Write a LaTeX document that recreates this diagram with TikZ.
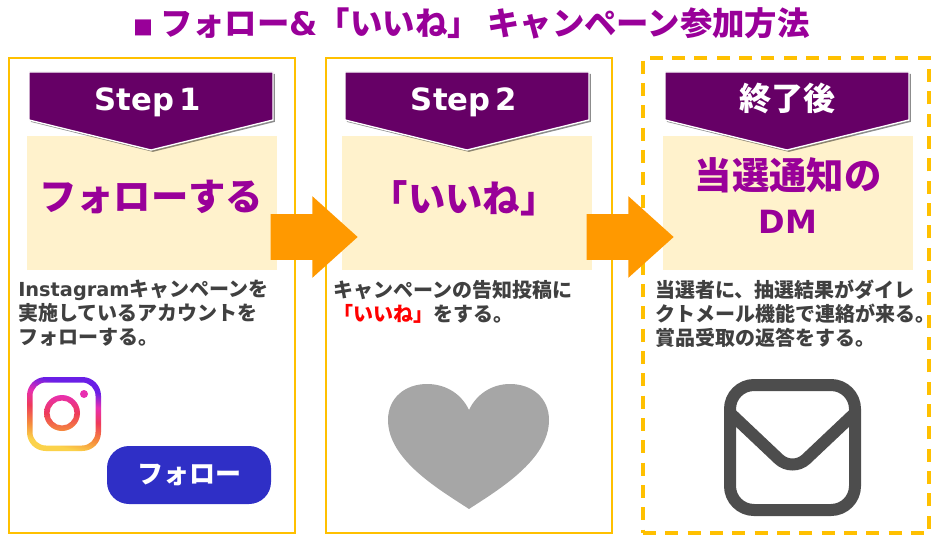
\documentclass[tikz,border=0pt]{standalone}
\usepackage{fontspec}
\setmainfont{Noto Sans CJK JP}
\newfontfamily\latinfont{DejaVu Sans}
\usetikzlibrary{positioning,shapes.arrows,shadows}
\definecolor{titlepurple}{HTML}{990099}
\definecolor{bannerpurple}{HTML}{660066}
\definecolor{creamfill}{HTML}{FFF2CC}
\definecolor{cardyellow}{HTML}{FFC000}
\definecolor{arroworange}{HTML}{FF9900}
\definecolor{bodygray}{HTML}{404040}
\definecolor{buttonblue}{HTML}{2F2FC6}
\definecolor{heartgray}{HTML}{A6A6A6}
\definecolor{mailgray}{HTML}{4D4D4D}
\definecolor{instaviolet}{HTML}{6A1FE6}
\definecolor{instapink}{HTML}{E82FB0}
\definecolor{instared}{HTML}{EE3A5A}
\definecolor{instaorange}{HTML}{F58A3C}
\definecolor{instayellow}{HTML}{FBD24A}
\pgfdeclareverticalshading{instashade}{100bp}{
  color(0bp)=(instayellow); color(28bp)=(instayellow); color(38bp)=(instaorange); color(50bp)=(instared);
  color(60bp)=(instapink); color(70bp)=(instaviolet); color(100bp)=(instaviolet)}
\pgfdeclareverticalshading{ringshade}{100bp}{
  color(0bp)=(instaorange); color(25bp)=(instaorange); color(50bp)=(instared); color(75bp)=(instapink); color(100bp)=(instapink)}
\tikzset{
  cardbox/.style={draw=cardyellow,line width=1.5pt,outer sep=0pt,minimum width=214.5pt,minimum height=356.25pt,inner sep=0pt},
  cardlast/.style={cardbox,line width=3pt,dash pattern=on 9.75pt off 7pt},
  creambox/.style={fill=creamfill,minimum width=187.5pt,minimum height=100.5pt,inner sep=0pt},
  bannershape/.style={fill=bannerpurple,draw=white,line width=1pt,drop shadow={shadow xshift=1.4pt,shadow yshift=-1.4pt,opacity=.45,fill=black}},
  bannertext/.style={text=white,font=\latinfont\bfseries\fontsize{23}{27}\selectfont,inner sep=0pt},
  headtext/.style={text=titlepurple,font=\bfseries\fontsize{28}{33}\selectfont,inner sep=0pt,align=center},
  bodytext/.style={text=bodygray,font=\bfseries\fontsize{15}{18}\selectfont,inner sep=0pt,align=left,anchor=north west},
  flowarrow/.style={single arrow,fill=arroworange,minimum height=65.25pt,minimum width=60.75pt,
    single arrow head extend=13.5pt,single arrow tip angle=84,single arrow head indent=0pt,inner sep=0pt},
}
\begin{document}
\begin{tikzpicture}[x=0.75pt,y=-0.75pt]
  \useasboundingbox (0,0) rectangle (941,538);
  \node[text=titlepurple,font=\bfseries\fontsize{24.3}{28}\selectfont,inner sep=0pt] (title) at (471.5,23)
    {{\fontsize{15}{15}\selectfont ■}\hspace{5pt}フォロー{\latinfont\&}「いいね」 キャンペーン参加方法};
  % the three cards
  \node[cardbox] (carda) at (152,295.5) {};
  \node[cardbox] (cardb) [right = 23.25pt of carda] {};
  \node[cardlast] (cardc) [right = 23.25pt of cardb] {};
  \node[creambox] (creama) at (151.5,203) {};
  \node[creambox] (creamb) at (467,203) {};
  \node[creambox] (creamc) at (787.5,203) {};
  % banners
  \draw[bannershape] (29,72) -- (273,72) -- (273,120) -- (151,150) -- (29,120) -- cycle;
  \draw[bannershape] (345,72) -- (589,72) -- (589,120) -- (467,150) -- (345,120) -- cycle;
  \draw[bannershape] (665,72) -- (909,72) -- (909,120) -- (787,150) -- (665,120) -- cycle;
  \node[bannertext] (stepa) at (148,102) {Step\hspace{4pt}1};
  \node[bannertext] (stepb) at (464,102) {Step\hspace{4pt}2};
  \node[bannertext,font=\bfseries\fontsize{24}{28}\selectfont] (stepc) at (787,98) {終了後};
  \node[headtext] (heada) at (151,197) {フォローする};
  \node[headtext] (headb) at (464,198) {「いいね」};
  \node[headtext] (headc) at (788,175) {当選通知の};
  \node[headtext,font=\latinfont\bfseries\fontsize{24}{28}\selectfont] (headd) at (788,222) {DM};
  % arrows between the cards
  \node[flowarrow] (arrowa) at (301.5,237) {\rule{0pt}{33.75pt}};
  \node[flowarrow] (arrowb) at (617.5,237) {\rule{0pt}{33.75pt}};
  % text under the boxes
  \node[bodytext] (bodya) at (18,280) {{\latinfont\fontsize{14.5}{18}\selectfont Instagram}キャンペーンを\\実施しているアカウントを\\フォローする。};
  \node[bodytext] (bodyb) at (333,280) {キャンペーンの告知投稿に\\{\color{red}「いいね」}をする。};
  \node[bodytext] (bodyc) at (655,280) {当選者に、抽選結果がダイレ\\クトメール機能で連絡が来る。\\賞品受取の返答をする。};
  % instagram icon
  \shade[shading=instashade,shading angle=-15,even odd rule,rounded corners=14pt]
    (27,377) rectangle (101,451) [rounded corners=10pt] (32.5,382.5) rectangle (95.5,445.5);
  \shade[shading=ringshade,even odd rule]
    (62,413) circle[radius=18] (62,413) circle[radius=12.5];
  \fill[instapink] (84,394) circle[radius=4];
  \node[fill=buttonblue,rounded corners=16.5pt,minimum width=123pt,minimum height=43.5pt,inner sep=0pt,
    text=white,font=\bfseries\fontsize{19.5}{24}\selectfont] (followbtn) at (189,475) {フォロー};
  % heart
  \fill[heartgray] (469,509) .. controls (440,490) and (388,460) .. (388,420)
    .. controls (388,398) and (405,384) .. (427,384)
    .. controls (447,384) and (462,395) .. (469,410)
    .. controls (476,395) and (491,384) .. (510,384)
    .. controls (532,384) and (549,398) .. (549,420)
    .. controls (549,460) and (498,490) .. (469,509) -- cycle;
  % envelope
  \draw[mailgray,line width=9pt,rounded corners=18pt] (730,385) rectangle (855,510);
  \draw[mailgray,line width=9pt,rounded corners=14pt] (729,412) -- (792.5,472) -- (856,412);
\end{tikzpicture}
\end{document}
